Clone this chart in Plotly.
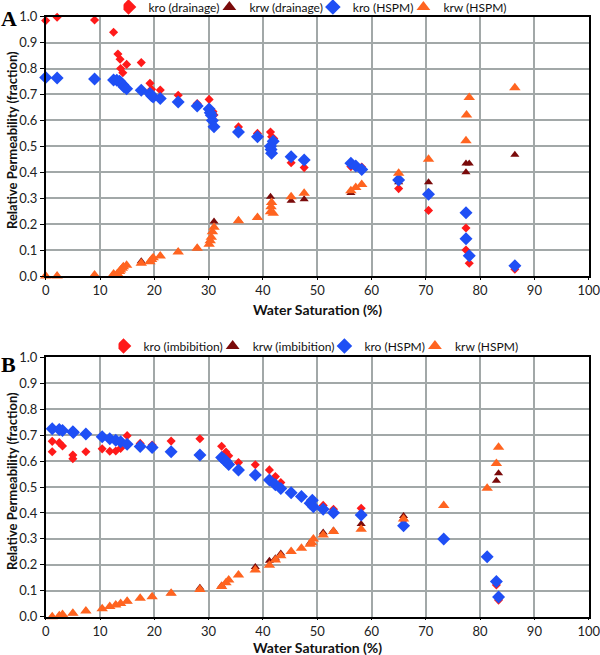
import plotly.graph_objects as go

# ---------------- Panel A (drainage) ----------------
a_kro_d_x = [0, 2.1, 9.0, 12.5, 13.3, 13.7, 13.8, 14.2, 14.9, 17.6, 19.2, 19.5, 21.1, 24.4, 27.9, 30.1, 30.8, 31.0,
             35.5, 39.0, 41.4, 41.6, 42.0, 45.2, 47.6, 56.2, 58.2, 65.0, 70.5, 77.4, 77.4, 78.0, 86.4]
a_kro_d_y = [0.985, 0.998, 0.987, 0.94, 0.856, 0.836, 0.80, 0.784, 0.816, 0.823, 0.743, 0.72, 0.717, 0.697, 0.665,
             0.681, 0.634, 0.621, 0.575, 0.55, 0.555, 0.537, 0.53, 0.437, 0.418, 0.422, 0.42, 0.337, 0.253, 0.185,
             0.10, 0.049, 0.026]

a_krw_d_x = [0, 2.1, 9.0, 12.5, 13.6, 14.3, 17.6, 19.5, 21.1, 24.4, 27.9, 30.3, 31.0, 35.5, 39.0, 41.4, 41.6, 45.2,
             47.6, 56.2, 58.2, 65.0, 70.5, 77.4, 77.4, 78.0, 86.4]
a_krw_d_y = [0.0, 0.0, 0.004, 0.008, 0.017, 0.036, 0.057, 0.062, 0.077, 0.093, 0.107, 0.136, 0.21, 0.213, 0.226,
             0.306, 0.283, 0.29, 0.296, 0.32, 0.353, 0.362, 0.362, 0.40, 0.434, 0.434, 0.468]

a_kro_h_x = [0, 2.1, 9.0, 12.5, 13.1, 13.6, 13.8, 14.2, 14.4, 14.9, 17.6, 19.2, 19.5, 19.8, 21.1, 24.4, 27.9, 30.1,
             30.3, 30.5, 30.7, 31.0, 35.5, 39.0, 41.4, 41.5, 41.6, 41.9, 45.2, 47.6, 56.2, 57.1, 58.2, 65.0, 70.5,
             77.4, 77.4, 78.0, 86.4]
a_kro_h_y = [0.766, 0.764, 0.76, 0.756, 0.755, 0.751, 0.746, 0.738, 0.73, 0.722, 0.716, 0.704, 0.695, 0.69, 0.685,
             0.671, 0.656, 0.644, 0.63, 0.62, 0.60, 0.576, 0.555, 0.537, 0.50, 0.488, 0.473, 0.52, 0.46, 0.447,
             0.435, 0.424, 0.411, 0.37, 0.315, 0.244, 0.144, 0.078, 0.04]

a_krw_h_x = [0, 2.1, 9.0, 12.5, 13.2, 13.6, 13.8, 14.1, 14.3, 14.9, 17.6, 19.2, 19.5, 19.8, 21.1, 24.4, 27.9, 30.1,
             30.3, 30.5, 30.7, 31.0, 35.5, 39.0, 41.4, 41.5, 41.6, 41.9, 45.2, 47.6, 56.2, 57.1, 58.2, 65.0, 70.5,
             77.4, 77.5, 78.0, 86.4]
a_krw_h_y = [0.0, 0.0, 0.004, 0.008, 0.01, 0.017, 0.023, 0.03, 0.036, 0.041, 0.049, 0.055, 0.064, 0.07, 0.077,
             0.093, 0.107, 0.122, 0.136, 0.149, 0.171, 0.188, 0.213, 0.226, 0.248, 0.267, 0.283, 0.242, 0.306,
             0.319, 0.329, 0.341, 0.353, 0.396, 0.45, 0.522, 0.621, 0.688, 0.726]

# ---------------- Panel B (imbibition) ----------------
b_kro_i_x = [1.2, 1.2, 2.5, 3.1, 5.0, 5.0, 7.4, 10.4, 11.8, 12.9, 13.8, 15.0, 17.4, 19.6, 23.1, 28.4, 32.4, 33.2,
             33.7, 35.5, 38.6, 41.2, 42.3, 43.3, 48.7, 51.1, 53.0, 58.1, 65.9, 83.0, 83.4]
b_kro_i_y = [0.676, 0.636, 0.671, 0.658, 0.623, 0.609, 0.636, 0.647, 0.638, 0.639, 0.649, 0.698, 0.668, 0.662,
             0.677, 0.686, 0.657, 0.635, 0.62, 0.594, 0.586, 0.566, 0.54, 0.517, 0.433, 0.429, 0.414, 0.418, 0.373,
             0.122, 0.064]

b_krw_i_x = [1.2, 2.5, 5.0, 7.4, 10.4, 12.9, 15.0, 19.6, 23.1, 28.4, 32.4, 33.7, 35.5, 38.6, 41.2, 42.3, 43.3, 45.2,
             48.7, 51.1, 53.0, 58.1, 65.9, 83.0, 83.4]
b_krw_i_y = [0.0, 0.004, 0.013, 0.022, 0.031, 0.045, 0.06, 0.077, 0.09, 0.112, 0.12, 0.141, 0.161, 0.192, 0.216,
             0.225, 0.244, 0.251, 0.285, 0.325, 0.332, 0.357, 0.388, 0.524, 0.553]

b_kro_h_x = [1.2, 2.5, 3.1, 5.0, 5.1, 7.4, 10.4, 11.8, 12.9, 13.8, 15.0, 17.4, 19.6, 23.1, 28.4, 32.4, 32.8, 33.2,
             33.7, 35.5, 38.6, 41.2, 42.3, 43.3, 45.2, 47.1, 48.7, 49.1, 49.3, 51.1, 53.0, 58.1, 65.9, 73.3, 81.3,
             83.0, 83.4]
b_kro_h_y = [0.725, 0.722, 0.718, 0.713, 0.71, 0.704, 0.694, 0.686, 0.68, 0.674, 0.665, 0.656, 0.652, 0.636, 0.623,
             0.614, 0.607, 0.599, 0.587, 0.566, 0.546, 0.527, 0.509, 0.494, 0.478, 0.463, 0.437, 0.449, 0.424,
             0.414, 0.401, 0.392, 0.351, 0.30, 0.231, 0.136, 0.076]

b_krw_h_x = [1.2, 2.5, 3.1, 5.0, 7.4, 10.4, 11.8, 12.9, 13.8, 15.0, 17.4, 19.6, 23.1, 28.4, 32.4, 33.2, 33.7, 35.5,
             38.6, 41.2, 42.3, 43.3, 45.2, 47.1, 48.7, 49.0, 49.3, 51.1, 53.0, 58.1, 65.9, 73.3, 81.3, 83.0, 83.4]
b_krw_h_y = [0.0, 0.004, 0.008, 0.013, 0.022, 0.031, 0.039, 0.045, 0.051, 0.06, 0.071, 0.077, 0.09, 0.105, 0.116,
             0.131, 0.141, 0.161, 0.18, 0.198, 0.219, 0.235, 0.251, 0.264, 0.279, 0.285, 0.30, 0.315, 0.328, 0.337,
             0.377, 0.429, 0.495, 0.591, 0.653]

x_ticks = [0, 10, 20, 30, 40, 50, 60, 70, 80, 90, 100]
y_ticks = [0.0, 0.1, 0.2, 0.3, 0.4, 0.5, 0.6, 0.7, 0.8, 0.9, 1.0]

RED = "#ff1a1a"
DARK = "#7a0a0a"
BLUE = "#1f4ff5"
ORANGE = "#ff6420"
FONT = "Lato"

fig = go.Figure()


def add_panel(xa, ya, legend, series):
    for name, x, y, symbol, color, size in series:
        fig.add_trace(go.Scatter(
            x=x, y=y, mode="markers", name=name, xaxis=xa, yaxis=ya, legend=legend,
            cliponaxis=False,
            marker=dict(symbol=symbol, color=color, size=size, line=dict(width=0)),
        ))


add_panel("x", "y", "legend", [
    ("kro (drainage)", a_kro_d_x, a_kro_d_y, "diamond", RED, 7),
    ("krw (drainage)", a_krw_d_x, a_krw_d_y, "triangle-up", DARK, 8),
    ("kro (HSPM)", a_kro_h_x, a_kro_h_y, "diamond", BLUE, 10),
    ("krw (HSPM)", a_krw_h_x, a_krw_h_y, "triangle-up", ORANGE, 10),
])
add_panel("x2", "y2", "legend2", [
    ("kro (imbibition)", b_kro_i_x, b_kro_i_y, "diamond", RED, 7),
    ("krw (imbibition)", b_krw_i_x, b_krw_i_y, "triangle-up", DARK, 8),
    ("kro (HSPM)", b_kro_h_x, b_kro_h_y, "diamond", BLUE, 10),
    ("krw (HSPM)", b_krw_h_x, b_krw_h_y, "triangle-up", ORANGE, 10),
])

W, H = 600, 655
xdom = [45.7 / W, 588.7 / W]
ydomA = [1 - 276 / H, 1 - 16.7 / H]
ydomB = [1 - 616.7 / H, 1 - 357.3 / H]

xaxis_common = dict(
    range=[0, 100], tickvals=x_ticks, ticktext=[str(v) for v in x_ticks],
    showgrid=True, gridcolor="#a2a8a8", gridwidth=1.5,
    showline=True, linecolor="black", linewidth=1.5, mirror=True,
    ticks="outside", ticklen=2, tickcolor="black", tickwidth=1,
    zeroline=False, automargin=False, ticklabeloverflow="allow",
    tickfont=dict(family=FONT, size=13, color="#222"),
    domain=xdom,
)
yaxis_common = dict(
    range=[0, 1], tickvals=y_ticks, ticktext=[f"{v:.1f}" for v in y_ticks],
    showgrid=True, gridcolor="#a2a8a8", gridwidth=1.5,
    showline=True, linecolor="black", linewidth=1.5, mirror=True,
    ticks="outside", ticklen=4, tickcolor="black", tickwidth=1,
    zeroline=False, automargin=False, tickfont=dict(family=FONT, size=13, color="#222"),
)

legend_common = dict(
    orientation="h", xanchor="center", yanchor="middle", itemsizing="constant",
    font=dict(family=FONT, size=12, color="#111"), bgcolor="rgba(0,0,0,0)",
    tracegroupgap=0, itemwidth=30, indentation=-15,
)

title_font = dict(family=FONT, size=14, color="#111")
ytitle_font = dict(family=FONT, size=13, color="#111")
panel_font = dict(family="Liberation Serif", size=22, color="black")

fig.update_layout(
    width=W, height=H,
    margin=dict(l=0, r=0, t=0, b=0, autoexpand=False),
    paper_bgcolor="white", plot_bgcolor="white",
    showlegend=True,
    xaxis=dict(anchor="y", **xaxis_common),
    yaxis=dict(anchor="x", domain=ydomA, **yaxis_common),
    xaxis2=dict(anchor="y2", **xaxis_common),
    yaxis2=dict(anchor="x2", domain=ydomB, **yaxis_common),
    legend=dict(x=0.53, y=1 - 7 / H, **legend_common),
    legend2=dict(x=0.535, y=1 - 346 / H, **legend_common),
    annotations=[
        dict(text="<b>Water Saturation (%)</b>", xref="paper", yref="paper", x=(45.7 + 588.7) / 2 / W,
             y=1 - 309 / H, showarrow=False, xanchor="center", yanchor="middle", font=title_font),
        dict(text="<b>Water Saturation (%)</b>", xref="paper", yref="paper", x=(45.7 + 588.7) / 2 / W,
             y=1 - 647 / H, showarrow=False, xanchor="center", yanchor="middle", font=title_font),
        dict(text="<b>Relative Permeability (fraction)</b>", textangle=-90, xref="paper", yref="paper",
             x=12 / W, y=1 - 140 / H, showarrow=False, xanchor="center", yanchor="middle", font=ytitle_font),
        dict(text="<b>Relative Permeability (fraction)</b>", textangle=-90, xref="paper", yref="paper",
             x=12 / W, y=1 - 481 / H, showarrow=False, xanchor="center", yanchor="middle", font=ytitle_font),
        dict(text="<b>A</b>", xref="paper", yref="paper", x=9 / W, y=1 - 19 / H, showarrow=False,
             xanchor="center", yanchor="middle", font=panel_font),
        dict(text="<b>B</b>", xref="paper", yref="paper", x=8 / W, y=1 - 364 / H, showarrow=False,
             xanchor="center", yanchor="middle", font=panel_font),
    ],
)

fig.write_html(
    "out.html",
    config={"displayModeBar": False},
    post_script=(
        "document.documentElement.style.margin='0px';"
        "document.documentElement.style.overflow='hidden';"
        "document.body.style.margin='0px';"
        "document.body.style.overflow='hidden';"
    ),
)
